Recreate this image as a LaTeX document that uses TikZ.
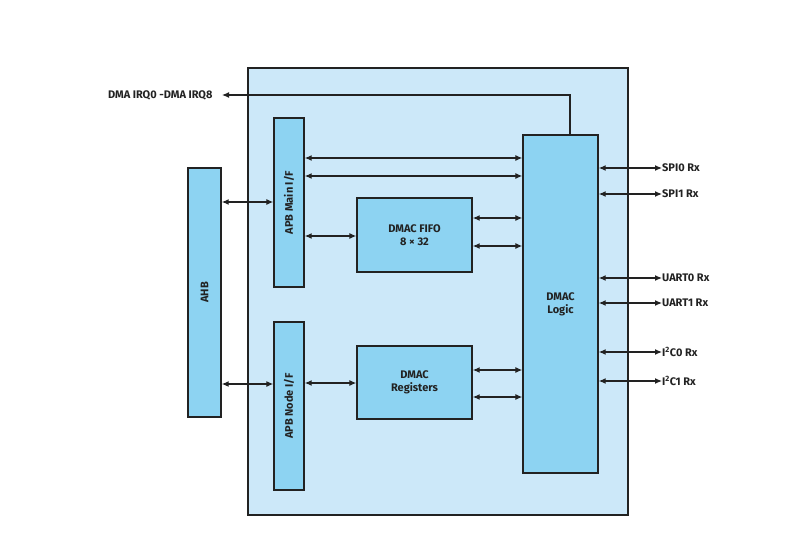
\documentclass[tikz,border=0pt]{standalone}
\usepackage{fontspec}
\setmainfont{Fira Sans}
\usetikzlibrary{arrows.meta}
\definecolor{outerc}{HTML}{CCE8F9}
\definecolor{boxc}{HTML}{8DD3F2}
\definecolor{linec}{HTML}{222222}
\begin{document}
\begin{tikzpicture}[x=1pt,y=-1pt,
  blk/.style={draw=linec,line width=1.4pt,fill=boxc},
  lbl/.style={font=\bfseries\fontsize{11}{13}\selectfont,text=linec},
  ar/.style={line width=1.2pt,draw=linec,{Latex[length=7pt,width=6pt]}-{Latex[length=7pt,width=6pt]}},
  sa/.style={line width=1.2pt,draw=linec,-{Latex[length=7pt,width=6pt]}}]
\useasboundingbox (0,0) rectangle (798,548);
\draw[line width=1.4pt,draw=linec,fill=outerc] (248,68) rectangle (628,515);
\node[blk,minimum width=33pt,minimum height=249pt] (ahb) at (204.5,292.5) {};
\node[lbl,rotate=90] at (ahb) {AHB};
\node[blk,minimum width=30pt,minimum height=169pt] (apbm) at (289,202.5) {};
\node[lbl,rotate=90] at (apbm) {APB Main I/F};
\node[blk,minimum width=30pt,minimum height=168pt] (apbn) at (289,406) {};
\node[lbl,rotate=90] at (apbn) {APB Node I/F};
\node[blk,minimum width=115pt,minimum height=74pt,lbl,align=center] (fifo) at (414.5,235) {DMAC FIFO\\8 × 32};
\node[blk,minimum width=115pt,minimum height=73pt,lbl,align=center] (reg) at (414.5,382.5) {DMAC\\Registers};
\node[blk,minimum width=75pt,minimum height=338pt,lbl,align=center] (logic) at (560.5,304) {DMAC\\Logic};
\draw[ar] (ahb.east|-0,202) -- (apbm.west|-0,202);
\draw[ar] (ahb.east|-0,384) -- (apbn.west|-0,384);
\draw[ar] (apbm.east|-0,158) -- (logic.west|-0,158);
\draw[ar] (apbm.east|-0,176) -- (logic.west|-0,176);
\draw[ar] (apbm.east|-0,236) -- (fifo.west|-0,236);
\draw[ar] (fifo.east|-0,218) -- (logic.west|-0,218);
\draw[ar] (fifo.east|-0,246) -- (logic.west|-0,246);
\draw[ar] (apbn.east|-0,383) -- (reg.west|-0,383);
\draw[ar] (reg.east|-0,370) -- (logic.west|-0,370);
\draw[ar] (reg.east|-0,397) -- (logic.west|-0,397);
\coordinate (irq) at (222,95);
\draw[sa] (logic.north-|570,0) -- (570,95) -- (irq);
\node[lbl,anchor=east] (irqt) at (216,95) {DMA IRQ0 -DMA IRQ8};
\foreach \y/\t/\n in {168/SPI0 Rx/Tx/a,194/SPI1 Rx/Tx/b,278/UART0 Rx/Tx/c,303/UART1 Rx/Tx/d,352/I\textsuperscript{2}C0 Rx/Tx/e,381/I\textsuperscript{2}C1 Rx/Tx/f}{
  \node[lbl,anchor=west,inner sep=0pt] (o\n) at (662,\y) {\t};
  \draw[ar] (logic.east|-0,\y) -- (o\n.west);
}
\end{tikzpicture}
\end{document}
